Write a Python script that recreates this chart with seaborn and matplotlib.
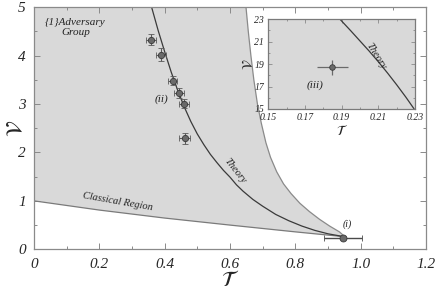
import numpy as np
import matplotlib
matplotlib.use('Agg')
import matplotlib.pyplot as plt
import seaborn as sns
from matplotlib.ticker import MultipleLocator, FixedLocator

# %%
# classical bound (lower edge of the shaded area)
classical_T = [0.0, 0.2, 0.4, 0.6, 0.8, 0.95]
classical_V = [1.0, 0.81, 0.645, 0.50, 0.36, 0.26]

# outer edge of the shaded area
edge_T = [0.649, 0.656, 0.664, 0.673, 0.684, 0.696, 0.710, 0.724, 0.743, 0.764, 0.787,
          0.814, 0.843, 0.874, 0.905, 0.935, 0.95]
edge_V = [5.0, 4.5, 4.0, 3.5, 3.0, 2.6, 2.2, 1.9, 1.6, 1.35, 1.15,
          0.95, 0.78, 0.62, 0.48, 0.36, 0.27]

# theory curve
theory_T = [0.36, 0.38, 0.40, 0.42, 0.44, 0.46, 0.48, 0.50, 0.52, 0.54, 0.56, 0.58, 0.60,
            0.62, 0.64, 0.67, 0.70, 0.74, 0.78, 0.82, 0.86, 0.90, 0.95]
theory_V = [5.0, 4.52, 4.08, 3.66, 3.28, 2.94, 2.64, 2.38, 2.16, 1.96, 1.79, 1.63, 1.49,
            1.33, 1.20, 1.03, 0.89, 0.72, 0.59, 0.48, 0.39, 0.32, 0.26]

# measured points (ii)
ii_T = [0.358, 0.389, 0.424, 0.445, 0.459, 0.461]
ii_V = [4.33, 4.02, 3.48, 3.23, 3.01, 2.29]
ii_Terr = [0.015, 0.015, 0.015, 0.015, 0.015, 0.018]
ii_Verr = [0.12, 0.13, 0.09, 0.10, 0.10, 0.12]

# point (i)
i_T = [0.945]
i_V = [0.24]
i_Terr = [0.058]
i_Verr = [0.03]

# inset: theory and point (iii)
inset_theory_T = [0.189, 0.195, 0.200, 0.205, 0.210, 0.215, 0.220, 0.225, 0.2295]
inset_theory_V = [23.0, 21.95, 21.05, 20.15, 19.2, 18.2, 17.15, 16.05, 15.0]
iii_T = [0.185]
iii_V = [18.7]
iii_Terr = [0.0084]
iii_Verr = [0.68]

# %%
sns.set_style('ticks')
plt.rcParams['font.family'] = ['Liberation Serif', 'DejaVu Serif']
plt.rcParams['mathtext.fontset'] = 'stix'

fig = plt.figure(figsize=(4.36, 2.97), dpi=100)
ax = fig.add_axes([0.078, 0.1606, 0.899, 0.8154])

fill_T = classical_T + edge_T[::-1] + [0.0]
fill_V = classical_V + edge_V[::-1] + [5.0]
ax.fill(fill_T, fill_V, color='#d9d9d9', lw=0, zorder=0)

sns.lineplot(x=classical_T, y=classical_V, sort=False, estimator=None, color='#7a7a7a', lw=0.9, ax=ax)
sns.lineplot(x=edge_T, y=edge_V, sort=False, estimator=None, color='#8a8a8a', lw=0.9, ax=ax)
sns.lineplot(x=theory_T, y=theory_V, sort=False, estimator=None, color='#3a3a3a', lw=0.9, ax=ax)

ax.errorbar(ii_T, ii_V, xerr=ii_Terr, yerr=ii_Verr, fmt='o', ms=4.5, color='#6a6a6a',
            mec='#3a3a3a', mew=0.6, ecolor='#5a5a5a', elinewidth=0.8, capsize=2, capthick=0.8, zorder=5)
ax.errorbar(i_T, i_V, xerr=i_Terr, yerr=i_Verr, fmt='o', ms=5, color='#6a6a6a',
            mec='#3a3a3a', mew=0.6, ecolor='#4a4a4a', elinewidth=1.0, capsize=2, capthick=0.8, zorder=5)

ax.set_xlim(0, 1.2)
ax.set_ylim(0, 5)
ax.xaxis.set_major_locator(FixedLocator([0, 0.2, 0.4, 0.6, 0.8, 1.0, 1.2]))
ax.set_xticklabels(['0', '0.2', '0.4', '0.6', '0.8', '1.0', '1.2'])
ax.xaxis.set_minor_locator(MultipleLocator(0.1))
ax.yaxis.set_major_locator(MultipleLocator(1))
ax.yaxis.set_minor_locator(MultipleLocator(0.5))
ax.tick_params(which='both', direction='in', top=True, right=True, color='#8a8a8a', width=0.7)
ax.tick_params(which='major', length=4, labelsize=11, pad=6)
ax.tick_params(which='minor', length=2.5)
for lab in ax.get_xticklabels() + ax.get_yticklabels():
    lab.set_fontstyle('italic')
for s in ax.spines.values():
    s.set_color('#8a8a8a')
    s.set_linewidth(0.9)
    s.set_visible(True)

ax.set_xlabel(r'$\mathcal{T}$', fontsize=16, labelpad=0)
ax.set_ylabel(r'$\mathcal{V}$', fontsize=16)
ax.yaxis.set_label_coords(-0.018, 0.5)

ax.text(0.127, 4.58, '{1}Adversary\nGroup', fontsize=8, style='italic', ha='center', va='center',
        linespacing=1.1, color='#222222')
ax.text(0.255, 0.975, 'Classical Region', fontsize=7.5, style='italic', ha='center', va='center',
        rotation=-10, color='#222222')
ax.text(0.615, 1.62, 'Theory', fontsize=7.5, style='italic', ha='center', va='center',
        rotation=-52, color='#222222')
ax.text(0.39, 3.10, '(ii)', fontsize=8, style='italic', ha='center', va='center', color='#222222')
ax.text(0.958, 0.52, '(i)', fontsize=7, style='italic', ha='center', va='center', color='#222222')

# %%
ins = fig.add_axes([0.615, 0.633, 0.337, 0.303])
ins.set_facecolor('#d9d9d9')
sns.lineplot(x=inset_theory_T, y=inset_theory_V, sort=False, estimator=None, color='#3a3a3a', lw=0.9, ax=ins)
ins.errorbar(iii_T, iii_V, xerr=iii_Terr, yerr=iii_Verr, fmt='o', ms=4, color='#6a6a6a',
             mec='#3a3a3a', mew=0.6, ecolor='#6a6a6a', elinewidth=0.9, capsize=0, zorder=5)
ins.set_xlim(0.15, 0.23)
ins.set_ylim(15, 23)
ins.xaxis.set_major_locator(FixedLocator([0.15, 0.17, 0.19, 0.21, 0.23]))
ins.xaxis.set_minor_locator(MultipleLocator(0.01))
ins.yaxis.set_major_locator(FixedLocator([15, 17, 19, 21, 23]))
ins.yaxis.set_minor_locator(MultipleLocator(1))
ins.tick_params(which='both', direction='in', top=True, right=True, color='#8a8a8a', width=0.6)
ins.tick_params(which='major', length=3, labelsize=7, pad=3)
ins.tick_params(which='minor', length=1.5)
for lab in ins.get_xticklabels() + ins.get_yticklabels():
    lab.set_fontstyle('italic')
for s in ins.spines.values():
    s.set_color('#7a7a7a')
    s.set_linewidth(0.9)
    s.set_visible(True)
ins.set_xlabel(r'$\mathcal{T}$', fontsize=10, labelpad=1)
ins.set_ylabel(r'$\mathcal{V}$', fontsize=10, labelpad=-1)
ins.text(0.1756, 17.1, '(iii)', fontsize=8, style='italic', ha='center', va='center', color='#222222')
ins.text(0.2085, 19.7, 'Theory', fontsize=7.5, style='italic', ha='center', va='center',
         rotation=-58, color='#222222')

fig.savefig('out.png', dpi=100)
